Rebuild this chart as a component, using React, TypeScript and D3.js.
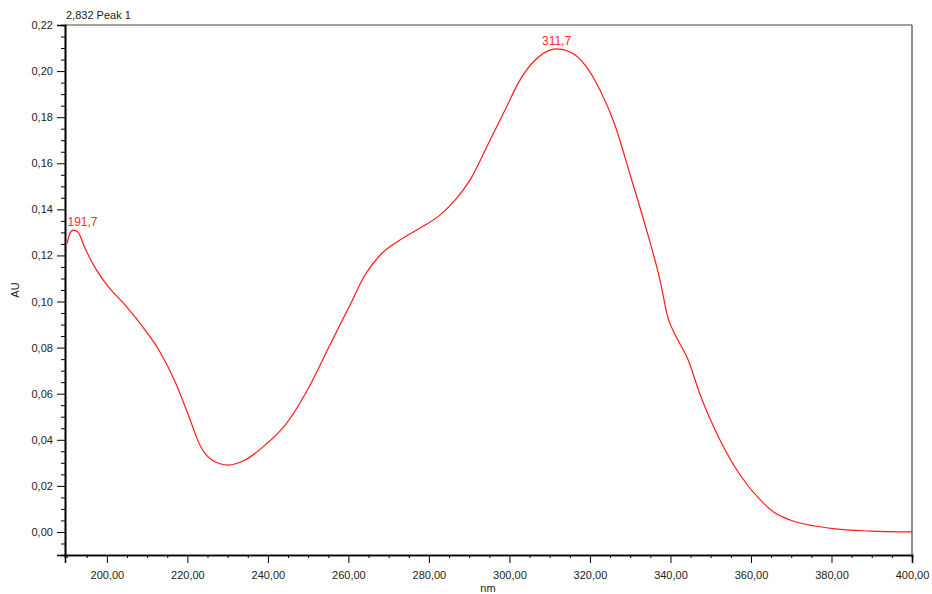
import React, { useEffect, useRef } from "react";
import * as d3 from "d3";

// spectrum (nm, AU)
const wavelengths = [190.1, 190.8, 191.7, 192.8, 194.6, 197.1, 200, 204.5, 209.5, 213.2, 217, 220.7, 223.1, 226.1, 230.1, 234.3, 239.3, 244.3, 250.5, 255.4, 260.4, 264.1, 267.9, 272.8, 277.8, 282.8, 286.5, 290.2, 295.2, 298.9, 302.6, 306.4, 310.1, 311.7, 315.1, 318.8, 322.5, 326.2, 330, 333.7, 337.4, 339.4, 341.2, 344.4, 347.4, 352.3, 357.3, 362.3, 366, 369.7, 375.9, 380.9, 389.6, 400];
const absorbance = [0.125, 0.1295, 0.131, 0.1302, 0.123, 0.1146, 0.1072, 0.0985, 0.0876, 0.0781, 0.065, 0.0486, 0.0377, 0.0312, 0.029, 0.0312, 0.0377, 0.0464, 0.0638, 0.0811, 0.0985, 0.1115, 0.1202, 0.1267, 0.1319, 0.1376, 0.144, 0.1527, 0.1701, 0.1831, 0.1961, 0.2048, 0.2091, 0.2096, 0.2083, 0.2026, 0.1918, 0.1766, 0.1549, 0.1332, 0.1093, 0.0928, 0.0855, 0.0746, 0.0594, 0.0399, 0.0247, 0.0139, 0.0082, 0.0052, 0.0026, 0.0013, 0.0004, 0.0];

const peaks = [
  { x: 191.7, y: 0.131, label: "191,7" },
  { x: 311.7, y: 0.2096, label: "311,7" },
];

const xMajorTicks = [200, 220, 240, 260, 280, 300, 320, 340, 360, 380, 400];
const yMajorTicks = [0, 0.02, 0.04, 0.06, 0.08, 0.1, 0.12, 0.14, 0.16, 0.18, 0.2, 0.22];

const fmt = (v: number, d: number) => v.toFixed(d).replace(".", ",");

const App = () => {
  const svgRef = useRef<SVGSVGElement>(null);

  useEffect(() => {
    const svg = d3.select(svgRef.current);
    svg.selectAll("*").remove();
    const width = 932;
    const height = 594;
    const left = 65, right = 912, top = 25, bottom = 555;
    const font = "Liberation Sans, Arial, sans-serif";

    const x = d3.scaleLinear().domain([189.6, 400]).range([left, right]);
    const y = d3.scaleLinear().domain([-0.01, 0.22]).range([bottom, top]);

    svg.attr("width", width).attr("height", height);

    // frame top & right
    svg.append("line").attr("x1", left).attr("x2", right).attr("y1", top).attr("y2", top)
      .attr("stroke", "#444").attr("stroke-width", 1.2);
    svg.append("line").attr("x1", right).attr("x2", right).attr("y1", top).attr("y2", bottom)
      .attr("stroke", "#444").attr("stroke-width", 1.2);

    // x axis: minor every 5 nm, major every 20
    const xMinor = d3.range(190, 400.1, 5).filter((v) => v % 20 !== 0);
    const xg = svg.append("g").attr("transform", `translate(0,${bottom})`);
    xg.call(d3.axisBottom(x).tickValues(xMinor).tickSize(3).tickFormat(() => ""));
    xg.append("g").call(d3.axisBottom(x).tickValues(xMajorTicks).tickSize(8).tickFormat((d) => fmt(+d, 2)));
    xg.selectAll(".domain").attr("stroke", "#000").attr("stroke-width", 1.6);
    xg.selectAll("text").attr("font-family", font).attr("font-size", 11).attr("fill", "#222").attr("dy", "1.2em");

    // y axis: minor every 0.005, major every 0.02
    const yMinor = d3.range(-2, 45).map((k) => k * 0.005).filter((_, i) => (i - 2) % 4 !== 0);
    const yg = svg.append("g").attr("transform", `translate(${left},0)`);
    yg.call(d3.axisLeft(y).tickValues(yMinor).tickSize(4).tickFormat(() => ""));
    yg.append("g").call(d3.axisLeft(y).tickValues(yMajorTicks).tickSize(8).tickFormat((d) => fmt(+d, 2)));
    yg.selectAll(".domain").attr("stroke", "#000").attr("stroke-width", 1.6);
    yg.selectAll("text").attr("font-family", font).attr("font-size", 11).attr("fill", "#222").attr("dx", "-0.1em");

    // curve
    const line = d3.line<number>()
      .x((_, i) => x(wavelengths[i]))
      .y((d) => y(d))
      .curve(d3.curveMonotoneX);
    svg.append("path").datum(absorbance).attr("d", line)
      .attr("fill", "none").attr("stroke", "#ff1a1a").attr("stroke-width", 1.2);

    // peak labels
    svg.selectAll(".peak").data(peaks).enter().append("text")
      .attr("x", (d) => (d.x < 200 ? x(d.x) - 6 : x(d.x)))
      .attr("y", (d) => y(d.y) - 4)
      .attr("text-anchor", (d) => (d.x < 200 ? "start" : "middle"))
      .attr("font-family", font).attr("font-size", 12).attr("fill", "#ff2a2a")
      .text((d) => d.label);

    // titles
    svg.append("text").attr("x", left + 1).attr("y", top - 6)
      .attr("font-family", font).attr("font-size", 11).attr("fill", "#222").text("2,832 Peak 1");
    svg.append("text").attr("x", 488).attr("y", 592).attr("text-anchor", "middle")
      .attr("font-family", font).attr("font-size", 11).attr("fill", "#222").text("nm");
    svg.append("text").attr("transform", `translate(19,290) rotate(-90)`).attr("text-anchor", "middle")
      .attr("font-family", font).attr("font-size", 11).attr("fill", "#222").text("AU");
  }, []);

  return (
    <div style={{ position: "absolute", left: 0, top: 0 }}>
      <svg ref={svgRef} width={932} height={594}></svg>
    </div>
  );
};

export default App;
